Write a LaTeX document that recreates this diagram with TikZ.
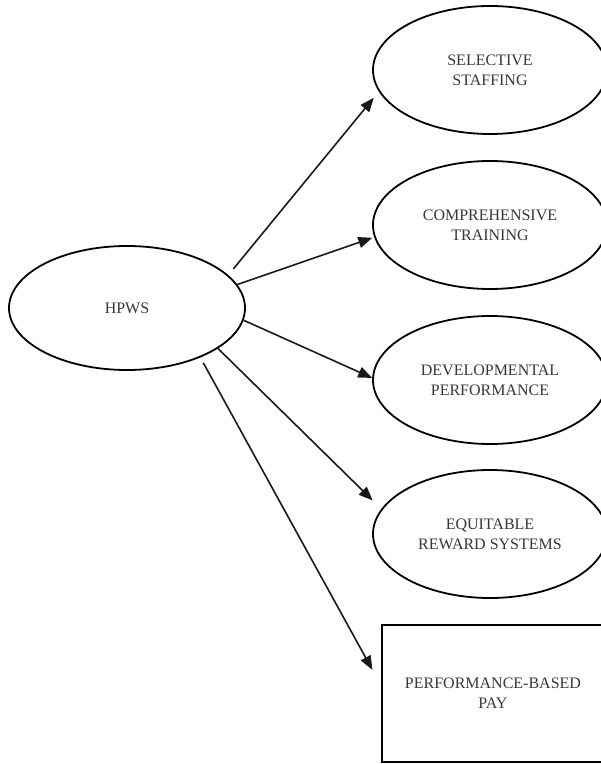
\documentclass[tikz,border=0pt]{standalone}
\usepackage{fontspec}
\setmainfont{Liberation Serif}
\usetikzlibrary{arrows.meta,shapes.geometric}
\definecolor{textgray}{RGB}{55,55,55}

\begin{document}
\begin{tikzpicture}[
  x=0.5pt, y=-0.5pt,
  oval/.style={ellipse, draw, line width=0.9pt, inner sep=0pt, minimum width=117pt, minimum height=64pt,
    align=center, text=textgray, font=\fontsize{8}{10}\selectfont},
  box/.style={rectangle, draw, line width=0.9pt, inner sep=0pt, minimum width=111pt, minimum height=68.5pt,
    align=center, text=textgray, font=\fontsize{8}{10}\selectfont},
  arrow/.style={-{Triangle[length=7pt,width=5.5pt]}, line width=0.8pt, black!90}
]
\useasboundingbox (0,0) rectangle (600,764);

\node[oval, minimum width=118pt, minimum height=62pt] (hpws) at (127,308) {HPWS};

\node[oval] (staffing) at (490,70) {SELECTIVE\\STAFFING};
\node[oval] (training) at (490,225) {COMPREHENSIVE\\TRAINING};
\node[oval] (perform) at (490,380) {DEVELOPMENTAL\\PERFORMANCE};
\node[oval] (reward) at (490,534) {EQUITABLE\\REWARD SYSTEMS};
\node[box] (pay) at (493,693.5) {PERFORMANCE-BASED\\PAY};

\draw[arrow, shorten <=4pt, shorten >=4pt] (hpws.18) -- (staffing.191);
\draw[arrow, shorten >=1pt] (hpws.12.5) -- (training.186);
\draw[arrow] (hpws.354) -- (perform.179);
\draw[arrow, shorten >=6pt] (hpws.336.5) -- (reward.167.3);
\draw[arrow, shorten <=3pt, shorten >=9pt] (hpws.326) -- (pay.176.8);

\end{tikzpicture}
\end{document}
